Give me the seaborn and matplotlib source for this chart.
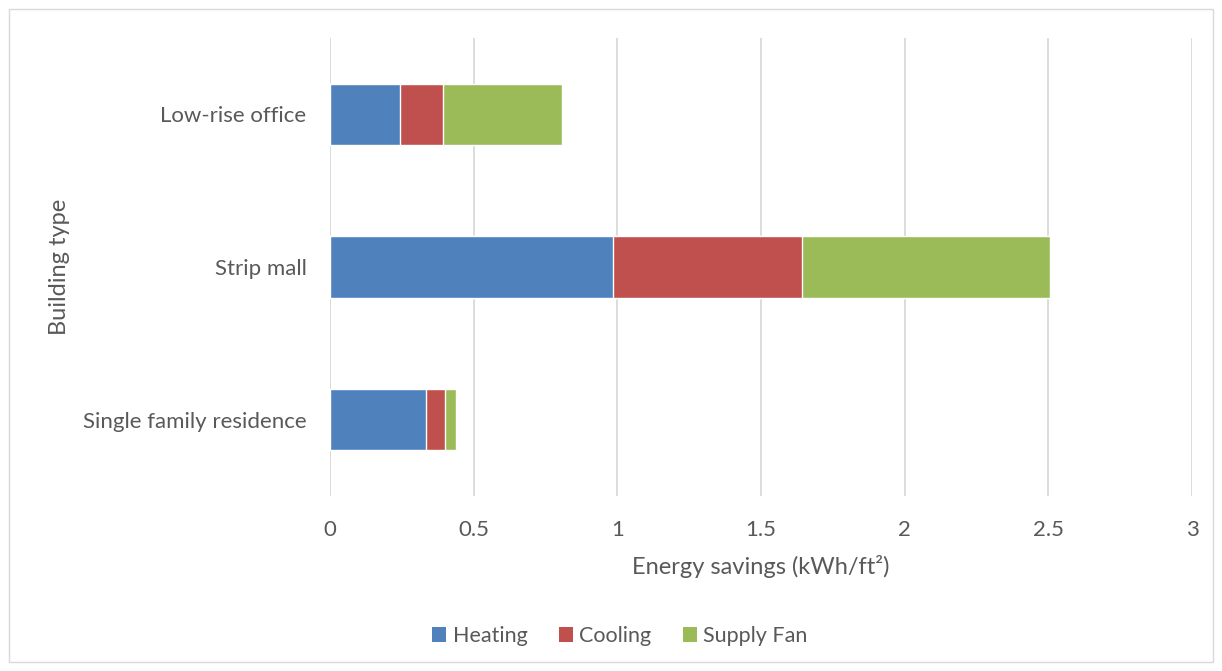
import matplotlib
matplotlib.use("Agg")
import matplotlib.pyplot as plt
import seaborn as sns
import pandas as pd
from matplotlib.patches import Patch, Rectangle

categories = ["Low-rise office", "Strip mall", "Single family residence"]
heating = [0.244, 0.985, 0.334]
cooling = [0.150, 0.658, 0.066]
supply_fan = [0.415, 0.863, 0.039]
series_names = ["Heating", "Cooling", "Supply Fan"]
colors = ["#4F81BD", "#C0504D", "#9BBB59"]
xticks = [0, 0.5, 1, 1.5, 2, 2.5, 3]
xtick_labels = ["0", "0.5", "1", "1.5", "2", "2.5", "3"]

sns.set_theme(style="white")
plt.rcParams["font.family"] = ["Lato", "DejaVu Sans"]

df = pd.DataFrame({"cat": categories, "Heating": heating,
                   "Cooling": cooling, "Supply Fan": supply_fan})
df["c1"] = df["Heating"]
df["c2"] = df["Heating"] + df["Cooling"]
df["c3"] = df["c2"] + df["Supply Fan"]

fig = plt.figure(figsize=(12.22, 6.71), dpi=100)
ax = fig.add_axes([330/1222, 1-496/671, (1192-330)/1222, (496-38)/671])

for col, color in zip(["c3", "c2", "c1"], colors[::-1]):
    sns.barplot(data=df, x=col, y="cat", order=categories, color=color,
                width=0.4, orient="h", ax=ax, saturation=1, zorder=3)

ax.set_xlim(0, 3)
ax.set_ylim(2.5, -0.5)
ax.set_xticks(xticks)
ax.set_xticklabels(xtick_labels)
ax.grid(axis="x", color="#D9D9D9", linewidth=1.3, zorder=0)
ax.set_axisbelow(True)
for s in ax.spines.values():
    s.set_visible(False)
ax.tick_params(axis="both", length=0, labelsize=16, labelcolor="#595959")
ax.tick_params(axis="x", pad=17)
ax.tick_params(axis="y", pad=17)
ax.set_xlabel("Energy savings (kWh/ft²)", fontsize=17, color="#595959", labelpad=11)
ax.set_ylabel("Building type", fontsize=17, color="#595959", labelpad=9)

handles = [Patch(facecolor=c, edgecolor="none") for c in colors]
fig.legend(handles, series_names, loc="center", bbox_to_anchor=(620/1222, 1-636/671),
           ncol=3, frameon=False, fontsize=15.5, handlelength=0.65, handleheight=0.65,
           handletextpad=0.3, columnspacing=1.45, labelcolor="#595959")

fig.patches.append(Rectangle((9/1222, 9/671), 1204/1222, 653/671, transform=fig.transFigure,
                             fill=False, edgecolor="#D9D9D9", linewidth=1))

fig.savefig("out.png", dpi=100, facecolor="white")
